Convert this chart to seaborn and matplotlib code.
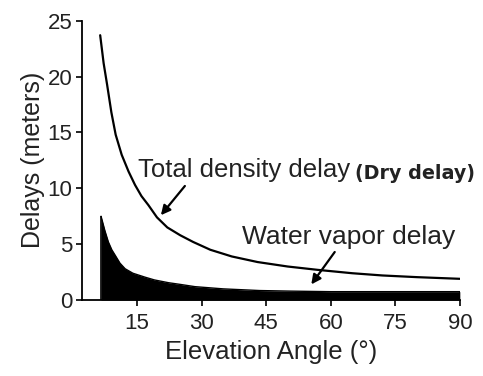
import matplotlib
matplotlib.use("Agg")
import matplotlib.pyplot as plt
import seaborn as sns
import pandas as pd

# Data
total_angle = [6.4, 7.2, 8.0, 9.0, 10.0, 11.4, 13.0, 14.5, 16.0, 17.6, 19.6, 22.0, 25.0, 28.0, 32.0,
               37.0, 43.0, 50.0, 57.0, 65.0, 72.0, 80.0, 90.0]
total_delay = [23.7, 21.2, 19.3, 16.8, 14.8, 13.0, 11.5, 10.3, 9.3, 8.5, 7.4, 6.5, 5.8, 5.2, 4.5,
               3.9, 3.4, 3.0, 2.7, 2.4, 2.2, 2.05, 1.9]

vapor_angle = [6.6, 7.5, 8.3, 9.1, 9.9, 11.0, 12.2, 14.0, 16.8, 19.0, 22.3, 25.0, 28.4, 35.0,
               43.5, 50.5, 60.0, 75.0, 90.0]
vapor_delay = [7.5, 6.2, 5.2, 4.5, 4.0, 3.3, 2.8, 2.4, 2.05, 1.8, 1.55, 1.4, 1.2, 1.0,
               0.85, 0.8, 0.75, 0.75, 0.75]

x_ticks = [15, 30, 45, 60, 75, 90]
y_ticks = [0, 5, 10, 15, 20, 25]

sns.set_theme(style="ticks")
plt.rcParams['font.family'] = ['Liberation Sans', 'DejaVu Sans']

fig = plt.figure(figsize=(4.83, 3.76), dpi=100)
ax = fig.add_axes([0.170, 0.202, 0.782, 0.743])

df_total = pd.DataFrame({"angle": total_angle, "delay": total_delay})
df_vapor = pd.DataFrame({"angle": vapor_angle, "delay": vapor_delay})

sns.lineplot(data=df_total, x="angle", y="delay", ax=ax, color="black", linewidth=1.6)
sns.lineplot(data=df_vapor, x="angle", y="delay", ax=ax, color="black", linewidth=1.0)
ax.fill_between(df_vapor["angle"], 0, df_vapor["delay"], color="black", linewidth=0)
ax.vlines([vapor_angle[0], vapor_angle[-1]], 0, [vapor_delay[0], vapor_delay[-1]], color="black", linewidth=1.2)

ax.set_xlim(2.2, 90)
ax.set_ylim(0, 25)
ax.set_xticks(x_ticks)
ax.set_yticks(y_ticks)
ax.tick_params(axis="both", labelsize=16, length=4, width=1.2, color="black", labelcolor="#222222")
ax.tick_params(axis="x", pad=5)
ax.tick_params(axis="y", pad=3)
for s in ["top", "right"]:
    ax.spines[s].set_visible(False)
for s in ["left", "bottom"]:
    ax.spines[s].set_color("black")
    ax.spines[s].set_linewidth(1.3)

ax.set_xlabel("Elevation Angle (°)", fontsize=18.5, color="#222222", labelpad=5)
ax.set_ylabel("Delays (meters)", fontsize=18, color="#222222", labelpad=2)

ax.text(15.2, 11.6, "Total density delay", fontsize=18.5, color="#222222", va="center", ha="left")
ax.text(65.6, 11.35, "(Dry delay)", fontsize=13.8, fontweight="bold", color="#222222", va="center", ha="left",
        family=["DejaVu Sans"])
ax.text(39.3, 5.6, "Water vapor delay", fontsize=19, color="#222222", va="center", ha="left")

ax.annotate("", xy=(20.1, 7.4), xytext=(26.5, 10.4),
            arrowprops=dict(arrowstyle="-|>", color="black", lw=1.6, mutation_scale=14))
ax.annotate("", xy=(55.1, 1.2), xytext=(61.3, 4.5),
            arrowprops=dict(arrowstyle="-|>", color="black", lw=1.6, mutation_scale=14))

fig.savefig("out.png", dpi=100, facecolor="white")
